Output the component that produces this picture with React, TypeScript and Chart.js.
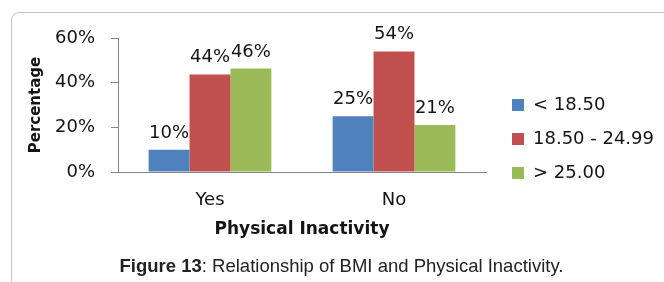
import React, { useEffect, useRef } from "react";
import { Chart, registerables } from "chart.js";

Chart.register(...registerables);

const categories = ["Yes", "No"];
const seriesNames = ["< 18.50", "18.50 - 24.99", "> 25.00"];
const underweight = [10, 25];
const normalWeight = [43.7, 54];
const overweight = [46.3, 21];
const yTickValues = [0, 20, 40, 60];
const seriesColors = ["#4F81BD", "#C0504D", "#9BBB59"];
const yTitle = "Percentage";
const xTitle = "Physical Inactivity";
const captionBold = "Figure 13";
const captionRest = ": Relationship of BMI and Physical Inactivity.";

const FONT = "'DejaVu Sans', sans-serif";
const TEXT = "#141414";
const AXIS = "#868686";

const valueLabels = {
  id: "valueLabels",
  afterDatasetsDraw(chart: any) {
    const ctx = chart.ctx;
    ctx.save();
    ctx.font = `18px ${FONT}`;
    ctx.fillStyle = TEXT;
    ctx.textAlign = "center";
    ctx.textBaseline = "alphabetic";
    chart.data.datasets.forEach((ds: any, i: number) => {
      const meta = chart.getDatasetMeta(i);
      meta.data.forEach((el: any, j: number) => {
        const v = ds.data[j];
        ctx.fillText(`${Math.round(v)}%`, el.x, el.y - 12);
      });
    });
    ctx.restore();
  },
};

export default function App() {
  const canvasRef = useRef<HTMLCanvasElement | null>(null);

  useEffect(() => {
    const canvas = canvasRef.current;
    if (!canvas) return;
    const seriesData = [underweight, normalWeight, overweight];
    const chart = new Chart(canvas, {
      type: "bar",
      data: {
        labels: categories,
        datasets: seriesNames.map((name, i) => ({
          label: name,
          data: seriesData[i],
          backgroundColor: seriesColors[i],
          borderWidth: 0,
          yAxisID: "y",
          categoryPercentage: 0.667,
          barPercentage: 1.0,
        })),
      },
      options: {
        animation: false,
        responsive: true,
        maintainAspectRatio: false,
        color: TEXT,
        layout: { padding: { left: 27, right: 0, top: 38, bottom: 42 } },
        plugins: {
          tooltip: { enabled: false },
          title: { display: false },
          legend: {
            display: true,
            position: "right",
            align: "center",
            maxWidth: 220,
            labels: {
              boxWidth: 12,
              boxHeight: 12,
              padding: 16,
              color: TEXT,
              font: { family: FONT, size: 18 },
            },
          },
        },
        scales: {
          x: {
            type: "category",
            offset: true,
            grid: { display: false, drawTicks: false, tickLength: 0 },
            border: { display: true, color: AXIS, width: 1 },
            ticks: {
              color: TEXT,
              padding: 18,
              font: { family: FONT, size: 18, lineHeight: 1.2 },
            },
            title: {
              display: true,
              text: xTitle,
              color: TEXT,
              padding: { top: 0, bottom: 0 },
              font: { family: FONT, size: 17, weight: "bold", lineHeight: 1.2 },
            },
            afterFit: (scale: any) => {
              scale.height = 68;
            },
          },
          y: {
            type: "linear",
            position: "left",
            min: yTickValues[0],
            max: yTickValues[yTickValues.length - 1],
            afterBuildTicks: (scale: any) => {
              scale.ticks = yTickValues.map((v) => ({ value: v }));
            },
            grid: {
              display: true,
              drawOnChartArea: false,
              drawTicks: true,
              tickLength: 7,
              color: AXIS,
            },
            border: { display: true, color: AXIS, width: 1 },
            ticks: {
              color: TEXT,
              padding: 16,
              font: { family: FONT, size: 18, lineHeight: 1.2 },
              callback: (v: any) => `${v}%`,
            },
            title: {
              display: true,
              text: yTitle,
              color: TEXT,
              padding: { top: 0, bottom: 0 },
              font: { family: FONT, size: 15, weight: "bold", lineHeight: 1.2 },
            },
            afterFit: (scale: any) => {
              scale.width = 91;
            },
          },
          gap: {
            type: "linear",
            position: "right",
            display: true,
            grid: { display: false, drawTicks: false, tickLength: 0 },
            border: { display: false },
            ticks: { display: false },
            afterFit: (scale: any) => {
              scale.width = 10;
            },
          },
        },
      },
      plugins: [valueLabels],
    } as any);
    return () => chart.destroy();
  }, []);

  return (
    <div
      style={{
        position: "absolute",
        left: 0,
        top: 0,
        width: 664,
        height: 282,
        overflow: "hidden",
        background: "#ffffff",
      }}
    >
      <div
        style={{
          position: "absolute",
          left: 11,
          top: 12,
          width: 720,
          height: 320,
          border: "1px solid #c4c4c4",
          borderRadius: 8,
          boxSizing: "border-box",
        }}
      />
      <div style={{ position: "absolute", left: 0, top: 0, width: 664, height: 282 }}>
        <canvas ref={canvasRef} />
      </div>
      <div
        style={{
          position: "absolute",
          left: 0,
          width: 683,
          top: 256,
          textAlign: "center",
          fontFamily: "'Liberation Sans', Arial, sans-serif",
          fontSize: 18.5,
          lineHeight: "20px",
          color: "#222",
          whiteSpace: "nowrap",
        }}
      >
        <b>{captionBold}</b>
        {captionRest}
      </div>
    </div>
  );
}
